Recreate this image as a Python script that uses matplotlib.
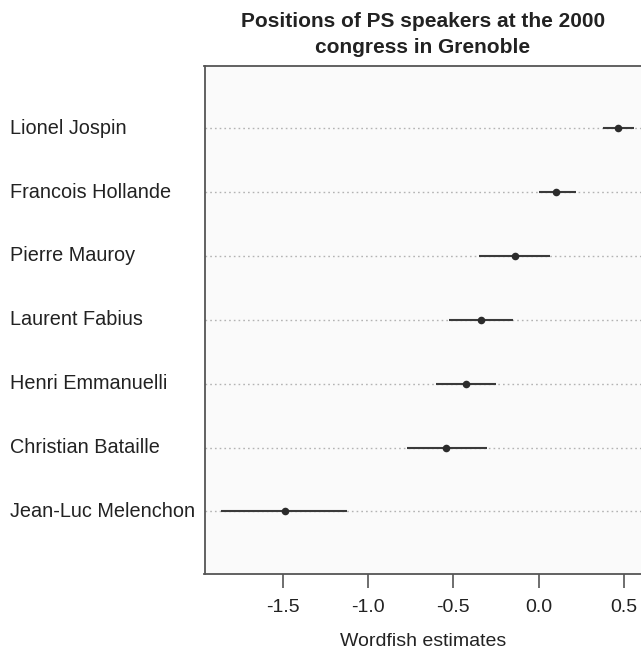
import matplotlib
matplotlib.use("Agg")
import matplotlib.pyplot as plt
import matplotlib.transforms as mtransforms

plt.rcParams['font.family'] = ['Liberation Sans', 'DejaVu Sans']

speakers = ["Lionel Jospin", "Francois Hollande", "Pierre Mauroy", "Laurent Fabius",
            "Henri Emmanuelli", "Christian Bataille", "Jean-Luc Melenchon"]
estimates = [0.467, 0.103, -0.138, -0.337, -0.427, -0.542, -1.489]
lower = [0.376, 0.000, -0.347, -0.528, -0.599, -0.770, -1.860]
upper = [0.559, 0.218, 0.069, -0.148, -0.247, -0.303, -1.120]
xticks = [-1.5, -1.0, -0.5, 0.0, 0.5]

W, H = 641, 652
fig = plt.figure(figsize=(W / 100, H / 100), dpi=100)
left, right, top, bottom = 204.5, 641.5, 65.7, 574
ax = fig.add_axes([left / W, 1 - bottom / H, (right - left) / W, (bottom - top) / H])
ax.set_facecolor('#fafafa')

n = len(speakers)
ypos = list(range(n, 0, -1))

for y in ypos:
    ax.axhline(y, color='#b3b3b3', linestyle=(0, (1.2, 2.2)), linewidth=1.0, zorder=1)

for y, lo, hi in zip(ypos, lower, upper):
    ax.plot([lo, hi], [y, y], color='#3a3a3a', linewidth=1.5, zorder=2, solid_capstyle='butt')
ax.scatter(estimates, ypos, s=30, color='#2b2b2b', zorder=3, linewidths=0)

ax.set_xlim(-1.958, 0.603)
ax.set_ylim(0.02, 7.98)
ax.set_xticks(xticks)
ax.set_xticklabels([f"{v:.1f}" for v in xticks], fontsize=14, color='#222222')
ax.set_yticks([])
ax.tick_params(axis='x', length=10, width=1.2, color='#555555', pad=8)

for s in ['left', 'top', 'bottom']:
    ax.spines[s].set_color('#555555')
    ax.spines[s].set_linewidth(1.3)
ax.spines['right'].set_visible(False)

trans = mtransforms.blended_transform_factory(fig.transFigure, ax.transData)
for y, name in zip(ypos, speakers):
    fig.text(10 / W, y, name, transform=trans, ha='left', va='center', fontsize=14.3, color='#222222')

ax.set_xlabel("Wordfish estimates", fontsize=14, color='#222222', labelpad=12)
ax.set_title("Positions of PS speakers at the 2000\ncongress in Grenoble", fontsize=15,
             fontweight='bold', color='#222222', pad=9, linespacing=1.45)

fig.savefig("out.png", dpi=100, facecolor='white')
